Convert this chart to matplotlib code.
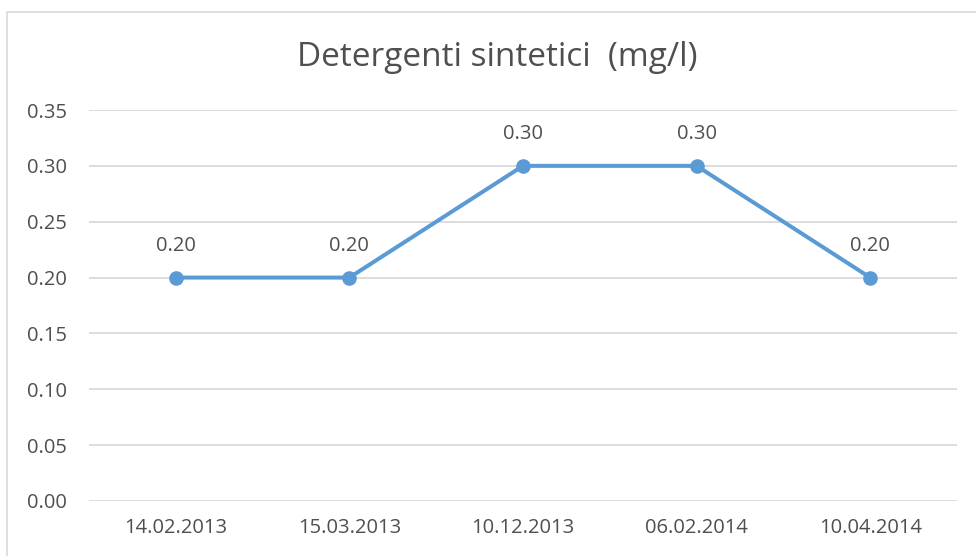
import numpy as np
import matplotlib.pyplot as plt
from matplotlib.patches import Rectangle

plt.rcParams['font.family'] = ['Open Sans', 'DejaVu Sans']

# sampling dates and measured values
dates = ['14.02.2013', '15.03.2013', '10.12.2013', '06.02.2014', '10.04.2014']
values = [0.20, 0.20, 0.30, 0.30, 0.20]
yticks = [0.00, 0.05, 0.10, 0.15, 0.20, 0.25, 0.30, 0.35]

text_col = '#4f4f4f'
line_col = '#5B9BD5'

fig = plt.figure(figsize=(9.76, 5.56), dpi=100)
ax = fig.add_axes([89/976, 55/556, 868/976, 391/556])

# chart border (runs off the right and bottom of the image)
fig.patches.append(Rectangle((7/976, -0.1), 1.2, (545 + 55)/556, transform=fig.transFigure,
                             fill=False, edgecolor='#d9d9d9', linewidth=1.2))

x = np.arange(len(dates))
ax.plot(x, values, color=line_col, linewidth=2.9, marker='o', markersize=9.5,
        solid_capstyle='round', zorder=3)
for xi, v in zip(x, values):
    ax.annotate('%.2f' % v, (xi, v), xytext=(0, 23), textcoords='offset points',
                ha='center', va='center', fontsize=14.5, color=text_col)

ax.set_xlim(-0.5, len(dates) - 0.5)
ax.set_ylim(0, 0.35)
ax.set_xticks(x)
ax.set_xticklabels(dates)
ax.set_yticks(yticks)
ax.set_yticklabels(['%.2f' % t for t in yticks])
ax.grid(axis='y', color='#d9d9d9', linewidth=1.3)
ax.set_axisbelow(True)
for s in ax.spines.values():
    s.set_visible(False)
ax.tick_params(length=0, labelsize=14.5, labelcolor=text_col)
ax.tick_params(axis='y', pad=16)
ax.tick_params(axis='x', pad=12)

fig.text(497/976, 1 - 57/556, 'Detergenti sintetici  (mg/l)', ha='center', va='center',
         fontsize=24, color=text_col)

fig.savefig('out.png', dpi=100)
